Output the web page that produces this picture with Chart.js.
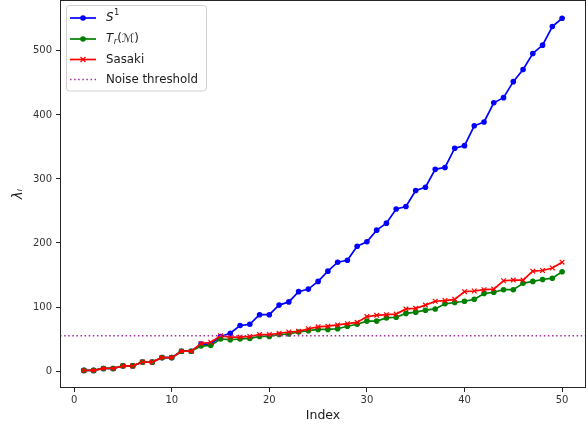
<!DOCTYPE html>
<html>
<head>
<meta charset="utf-8">
<script src="https://cdn.jsdelivr.net/npm/chart.js@4.4.1/dist/chart.umd.min.js"></script>
<style>
  html, body { margin: 0; padding: 0; background: #fff; }
  #wrap { width: 588px; height: 427px; }
</style>
</head>
<body>
<div id="wrap"><canvas id="eigChart" width="588" height="427"></canvas></div>
<script>
// data
const indices = Array.from({ length: 50 }, (_, i) => i + 1);
const s1Values = [1, 1, 4, 4, 8, 8, 14, 14, 21, 21, 31, 31, 42, 42, 54, 59, 71, 73, 88, 88,
  103, 108, 124, 128, 140, 156, 170, 173, 195, 202, 220, 231, 253, 257, 282, 287, 315, 318, 348, 352,
  383, 389, 419, 427, 452, 471, 496, 509, 538, 551];
const trValues = [1, 1, 4, 4, 8, 8, 14, 14, 21, 21, 31, 31, 39, 40, 50, 49, 50, 51, 54, 54,
  57, 58, 61, 63, 65, 65, 66, 70, 73, 78, 78, 83, 84, 90, 92, 95, 97, 105, 107, 109,
  112, 121, 123, 127, 127, 137, 140, 143, 145, 155];
const sasakiValues = [1, 1, 4, 4, 8, 8, 14, 14, 21, 21, 31, 31, 43, 45, 55, 53, 53, 54, 57, 57,
  59, 61, 62, 66, 69, 70, 72, 74, 76, 85, 87, 88, 89, 97, 98, 103, 109, 110, 112, 124,
  125, 127, 128, 141, 142, 142, 156, 157, 161, 170];
const noiseThreshold = 55;

const xTicks = [0, 10, 20, 30, 40, 50];
const yTicks = [0, 100, 200, 300, 400, 500];
const xRange = [-1.45, 52.45];
const yRange = [-26.5, 579.5];

const FONT = 'DejaVu Sans, sans-serif';
const AXIS = '#262626';

const toPoints = vals => vals.map((v, i) => ({ x: indices[i], y: v }));

// matplotlib-ish legend drawn in the top-left corner
const legendParts = [
  [{ t: 'S', f: 'italic' }, { t: '1', f: 'sup' }],
  [{ t: 'T', f: 'italic' }, { t: 'r', f: 'sub' }, { t: '(ℳ)', f: '' }],
  [{ t: 'Sasaki', f: '' }],
  [{ t: 'Noise threshold', f: '' }]
];

const boxLegend = {
  id: 'boxLegend',
  afterDraw(chart) {
    const ctx = chart.ctx;
    const bx = 66.5, by = 5.5, bw = 140, bh = 85.5, r = 3;
    ctx.save();
    ctx.beginPath();
    ctx.roundRect(bx, by, bw, bh, r);
    ctx.fillStyle = 'rgba(255,255,255,0.85)';
    ctx.fill();
    ctx.strokeStyle = '#d0d0d0';
    ctx.lineWidth = 1;
    ctx.stroke();

    const rows = [18, 39, 59.5, 79.5];
    chart.data.datasets.forEach((ds, i) => {
      const y = rows[i];
      ctx.save();
      ctx.strokeStyle = ds.borderColor;
      ctx.lineWidth = ds.borderWidth;
      ctx.setLineDash(ds.borderDash || []);
      ctx.beginPath();
      ctx.moveTo(70, y);
      ctx.lineTo(96, y);
      ctx.stroke();
      ctx.restore();
      if (ds.pointRadius > 0) {
        ctx.fillStyle = ds.borderColor;
        ctx.strokeStyle = ds.borderColor;
        ctx.beginPath();
        if (ds.pointStyle === 'circle') {
          ctx.arc(83, y, ds.pointRadius, 0, Math.PI * 2);
          ctx.fill();
        } else {
          const d = ds.pointRadius * 0.75;
          ctx.lineWidth = 1.2;
          ctx.moveTo(83 - d, y - d); ctx.lineTo(83 + d, y + d);
          ctx.moveTo(83 + d, y - d); ctx.lineTo(83 - d, y + d);
          ctx.stroke();
        }
      }
      let tx = 106;
      ctx.fillStyle = '#1a1a1a';
      ctx.textBaseline = 'middle';
      legendParts[i].forEach(p => {
        let size = 11.8, dy = 0, style = '';
        if (p.f === 'italic') style = 'italic ';
        if (p.f === 'sup') { size = 8.4; dy = -5; }
        if (p.f === 'sub') { size = 8.4; dy = 3; style = 'italic '; }
        ctx.font = style + size + 'px ' + FONT;
        ctx.fillText(p.t, tx, y + dy);
        tx += ctx.measureText(p.t).width + (p.f === 'italic' ? 0.5 : 0);
      });
    });
    ctx.restore();
  }
};

// full box around the plot area
const frame = {
  id: 'frame',
  afterDatasetsDraw(chart) {
    const { left, top, right, bottom } = chart.chartArea;
    const ctx = chart.ctx;
    ctx.save();
    ctx.strokeStyle = AXIS;
    ctx.lineWidth = 1;
    ctx.strokeRect(Math.round(left) + 0.5, Math.round(top) + 0.5,
      Math.round(right - left) - 1, Math.round(bottom - top) - 1);
    ctx.restore();
  }
};

new Chart(document.getElementById('eigChart'), {
  type: 'line',
  data: {
    datasets: [
      {
        label: 'S¹', data: toPoints(s1Values), borderColor: '#0000ff', backgroundColor: '#0000ff',
        borderWidth: 1.7, pointStyle: 'circle', pointRadius: 2.8, pointBorderWidth: 0, order: 4
      },
      {
        label: 'Tᵣ(ℳ)', data: toPoints(trValues), borderColor: '#008000', backgroundColor: '#008000',
        borderWidth: 1.7, pointStyle: 'circle', pointRadius: 2.8, pointBorderWidth: 0, order: 3
      },
      {
        label: 'Sasaki', data: toPoints(sasakiValues), borderColor: '#ff0000', backgroundColor: '#ff0000',
        borderWidth: 1.7, pointStyle: 'crossRot', pointRadius: 3.3, pointBorderWidth: 1.2, order: 2
      },
      {
        label: 'Noise threshold',
        data: xRange.map(x => ({ x: x, y: noiseThreshold })),
        borderColor: '#a0309f', borderWidth: 1.5, borderDash: [1.5, 2.6],
        pointRadius: 0, order: 1
      }
    ]
  },
  options: {
    responsive: false,
    animation: false,
    events: [],
    layout: { autoPadding: false, padding: { top: 0, right: 2, bottom: 0, left: 0 } },
    plugins: { legend: { display: false }, tooltip: { enabled: false } },
    scales: {
      x: {
        type: 'linear', min: xRange[0], max: xRange[1],
        afterBuildTicks: s => { s.ticks = xTicks.map(v => ({ value: v })); },
        afterFit: s => { s.height = 39; s.paddingLeft = 0; s.paddingRight = 0; },
        grid: { drawOnChartArea: false, drawTicks: true, tickLength: 4, color: AXIS },
        border: { display: false },
        ticks: { color: '#333', font: { family: FONT, size: 10 }, padding: 2, maxRotation: 0 },
        title: { display: true, text: 'Index', color: '#1a1a1a', font: { family: FONT, size: 12.5 }, padding: 4 }
      },
      y: {
        type: 'linear', min: yRange[0], max: yRange[1],
        afterBuildTicks: s => { s.ticks = yTicks.map(v => ({ value: v })); },
        afterFit: s => { s.width = 60; s.paddingTop = 0; s.paddingBottom = 0; },
        grid: { drawOnChartArea: false, drawTicks: true, tickLength: 4, color: AXIS },
        border: { display: false },
        ticks: { color: '#333', font: { family: FONT, size: 10 }, padding: 4 },
        title: { display: true, text: 'λᵢ', color: '#1a1a1a', font: { family: FONT, size: 13.5, style: 'italic' }, padding: 10 }
      }
    }
  },
  plugins: [frame, boxLegend]
});
</script>
</body>
</html>
